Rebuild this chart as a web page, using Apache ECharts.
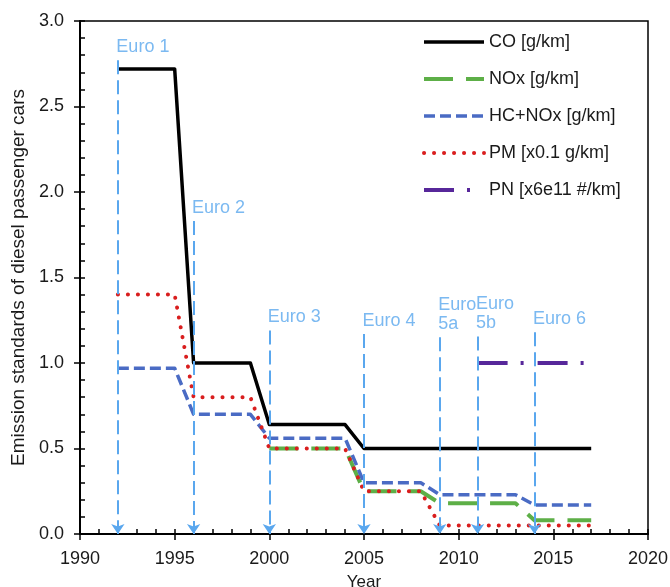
<!DOCTYPE html>
<html><head><meta charset="utf-8">
<script src="https://cdn.jsdelivr.net/npm/echarts@6/dist/echarts.min.js"></script>
<style>html,body{margin:0;padding:0;background:#fff}#c{width:670px;height:587px}</style>
</head><body><div id="c"></div>
<script>
// ---- data ----
const coYears = [1992, 1995, 1996, 1999, 2000, 2004, 2005, 2017];
const coValues = [2.72, 2.72, 1.0, 1.0, 0.64, 0.64, 0.5, 0.5];
const noxYears = [2000, 2004, 2005, 2008, 2009, 2013, 2014, 2017];
const noxValues = [0.5, 0.5, 0.25, 0.25, 0.18, 0.18, 0.08, 0.08];
const hcnoxYears = [1992, 1995, 1996, 1999, 2000, 2004, 2005, 2008, 2009, 2013, 2014, 2017];
const hcnoxValues = [0.97, 0.97, 0.7, 0.7, 0.56, 0.56, 0.3, 0.3, 0.23, 0.23, 0.17, 0.17];
const pmYears = [1992, 1995, 1996, 1999, 2000, 2004, 2005, 2008, 2009, 2017];
const pmValues = [1.4, 1.4, 0.8, 0.8, 0.5, 0.5, 0.25, 0.25, 0.05, 0.05];
const pnYears = [2011, 2017];
const pnValues = [1.0, 1.0];
const euroLabels = ['Euro 1', 'Euro 2', 'Euro 3', 'Euro 4', 'Euro\n5a', 'Euro\n5b', 'Euro 6'];
const euroYears = [1992, 1996, 2000, 2005, 2009, 2011, 2014];
const euroTops = [2.77, 1.83, 1.19, 1.17, 1.15, 1.155, 1.18];
const seriesNames = ['CO [g/km]', 'NOx [g/km]', 'HC+NOx [g/km]', 'PM [x0.1 g/km]', 'PN [x6e11 #/km]'];
const xTitle = 'Year';
const yTitle = 'Emission standards of diesel passenger cars';

const FONT = 'Liberation Sans';
const TXT = '#1a1a1a';
const EURO = '#5AA7EE';
const pair = (xs, ys) => xs.map((x, i) => [x, ys[i]]);

const chart = echarts.init(document.getElementById('c'), null, {renderer: 'canvas'});

const lineSeries = (name, xs, ys, color, width, type, cap) => ({
  name, type: 'line', data: pair(xs, ys), symbol: 'none', showSymbol: false,
  xAxisIndex: 0, yAxisIndex: 0, animation: false,
  lineStyle: {color, width, type, cap: cap || 'butt', join: 'round'},
  itemStyle: {color}, emphasis: {disabled: true}
});

const option = {
  backgroundColor: '#fff',
  animation: false,
  textStyle: {fontFamily: FONT},
  grid: {left: 80, right: 22, top: 21, bottom: 53, show: true, borderColor: '#000', borderWidth: 1.5,
    backgroundColor: 'transparent', containLabel: false, outerBoundsMode: 'none'},
  legend: {
    show: true, orient: 'vertical', left: 422, top: 33, padding: 0, itemWidth: 60, itemHeight: 14, itemGap: 19,
    selectedMode: false,
    textStyle: {fontFamily: FONT, fontSize: 18, color: TXT},
    itemStyle: {color: 'transparent', borderWidth: 0, opacity: 0},
    lineStyle: {width: 'inherit', type: 'inherit'},
    data: seriesNames
  },
  xAxis: [{
    type: 'value', min: 1990, max: 2020, interval: 5, position: 'bottom',
    name: xTitle, nameLocation: 'middle', nameGap: 40,
    nameTextStyle: {fontFamily: FONT, fontSize: 17, color: TXT},
    axisLine: {show: true, onZero: false, lineStyle: {color: '#000', width: 2}},
    axisTick: {show: true, inside: true, length: 5, lineStyle: {color: '#000', width: 1.5}},
    minorTick: {show: true, splitNumber: 5, length: 5, lineStyle: {color: '#000', width: 1.5}},
    axisLabel: {fontFamily: FONT, fontSize: 18, color: TXT, margin: 16, formatter: v => String(v)},
    splitLine: {show: false}, minorSplitLine: {show: false}
  }, {
    type: 'value', min: 1990, max: 2020, interval: 5, position: 'bottom',
    axisLine: {show: false}, axisLabel: {show: false}, splitLine: {show: false},
    axisTick: {show: true, inside: false, length: 6, lineStyle: {color: '#000', width: 1.5}}
  }],
  yAxis: [{
    type: 'value', min: 0, max: 3, interval: 0.5, position: 'left',
    name: yTitle, nameLocation: 'middle', nameGap: 48, nameRotate: 90,
    nameTextStyle: {fontFamily: FONT, fontSize: 19, color: TXT},
    axisLine: {show: true, onZero: false, lineStyle: {color: '#000', width: 2}},
    axisTick: {show: true, inside: true, length: 5, lineStyle: {color: '#000', width: 1.5}},
    minorTick: {show: true, splitNumber: 5, length: 5, lineStyle: {color: '#000', width: 1.5}},
    axisLabel: {fontFamily: FONT, fontSize: 18, color: TXT, margin: 16, formatter: v => v.toFixed(1)},
    splitLine: {show: false}, minorSplitLine: {show: false}
  }, {
    type: 'value', min: 0, max: 3, interval: 0.5, position: 'left',
    axisLine: {show: false}, axisLabel: {show: false}, splitLine: {show: false},
    axisTick: {show: true, inside: false, length: 6, lineStyle: {color: '#000', width: 1.5}}
  }],
  series: [
    lineSeries(seriesNames[0], coYears, coValues, '#000000', 3.5, 'solid'),
    lineSeries(seriesNames[1], noxYears, noxValues, '#5DAF47', 4, [29, 13]),
    lineSeries(seriesNames[2], hcnoxYears, hcnoxValues, '#4A6BC4', 3.5, [11, 5]),
    lineSeries(seriesNames[3], pmYears, pmValues, '#D91E1E', 4, [0.1, 9.9], 'round'),
    lineSeries(seriesNames[4], pnYears, pnValues, '#57279A', 4, [30, 13, 3, 14]),
    {
      name: 'euroLines', type: 'lines', coordinateSystem: 'cartesian2d', xAxisIndex: 0, yAxisIndex: 0,
      polyline: false, animation: false, z: 5,
      symbol: ['none', 'arrow'], symbolSize: [1, 10],
      lineStyle: {color: EURO, width: 2, type: [14, 6], opacity: 1, curveness: 0},
      data: euroYears.map((y, i) => ({coords: [[y, euroTops[i]], [y, 0]]}))
    },
    {
      name: 'euroLabels', type: 'scatter', xAxisIndex: 0, yAxisIndex: 0, symbol: 'circle', symbolSize: 1,
      animation: false, z: 6, silent: true,
      itemStyle: {color: 'rgba(0,0,0,0)'},
      data: euroYears.map((y, i) => ({value: [y, euroTops[i]], name: euroLabels[i]})),
      label: {show: true, position: 'top', distance: 3, align: 'left', offset: [-1.5, 0],
        formatter: p => p.name, fontFamily: FONT, fontSize: 18, color: EURO, lineHeight: 19},
      emphasis: {disabled: true}
    }
  ]
};
chart.setOption(option);
</script></body></html>
